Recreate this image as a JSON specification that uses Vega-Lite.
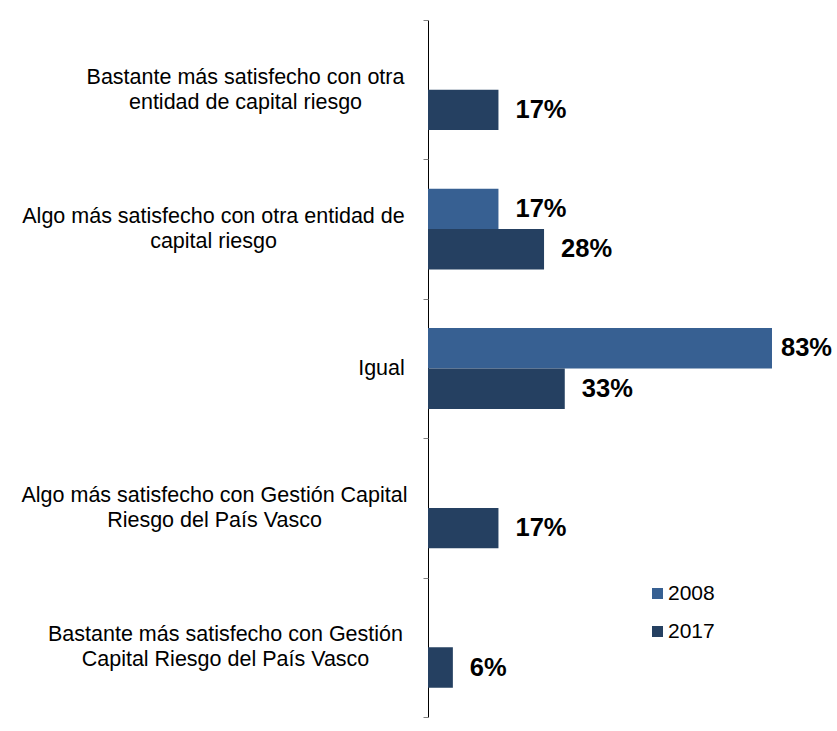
{
  "$schema": "https://vega.github.io/schema/vega-lite/v6.json",
  "width": 373,
  "height": 697,
  "autosize": {"type": "none"},
  "padding": {"left": 428, "top": 20, "right": 36, "bottom": 14},
  "background": "white",
  "config": {"view": {"stroke": null}, "font": "Liberation Sans"},
  "data": {"values": [
    {"categoria": "Bastante más satisfecho con otra entidad de capital riesgo", "anio": "2017", "valor": 0.17},
    {"categoria": "Algo más satisfecho con otra entidad de capital riesgo", "anio": "2008", "valor": 0.17},
    {"categoria": "Algo más satisfecho con otra entidad de capital riesgo", "anio": "2017", "valor": 0.28},
    {"categoria": "Igual", "anio": "2008", "valor": 0.83},
    {"categoria": "Igual", "anio": "2017", "valor": 0.33},
    {"categoria": "Algo más satisfecho con Gestión Capital Riesgo del País Vasco", "anio": "2017", "valor": 0.17},
    {"categoria": "Bastante más satisfecho con Gestión Capital Riesgo del País Vasco", "anio": "2017", "valor": 0.06}
  ]},
  "encoding": {
    "y": {
      "field": "categoria",
      "type": "nominal",
      "sort": [
        "Bastante más satisfecho con otra entidad de capital riesgo",
        "Algo más satisfecho con otra entidad de capital riesgo",
        "Igual",
        "Algo más satisfecho con Gestión Capital Riesgo del País Vasco",
        "Bastante más satisfecho con Gestión Capital Riesgo del País Vasco"
      ],
      "scale": {"paddingInner": 0, "paddingOuter": 0}
    },
    "yOffset": {"field": "anio", "type": "nominal", "scale": {"domain": ["2008", "2017"], "paddingInner": 0, "paddingOuter": 0.725}},
    "x": {"field": "valor", "type": "quantitative", "scale": {"domain": [0, 0.9]}, "axis": null}
  },
  "layer": [
    {
      "mark": {"type": "bar"},
      "encoding": {
        "y": {
          "field": "categoria",
          "type": "nominal",
          "sort": [
            "Bastante más satisfecho con otra entidad de capital riesgo",
            "Algo más satisfecho con otra entidad de capital riesgo",
            "Igual",
            "Algo más satisfecho con Gestión Capital Riesgo del País Vasco",
            "Bastante más satisfecho con Gestión Capital Riesgo del País Vasco"
          ],
          "scale": {"paddingInner": 0, "paddingOuter": 0},
          "axis": {
            "orient": "left",
            "title": null,
            "grid": false,
            "ticks": false,
            "tickSize": 0,
            "domainColor": "#000000",
            "domainWidth": 1,
            "labelFontSize": 21.5,
            "labelColor": "#000000",
            "labelLimit": 0,
            "labelAlign": "center",
            "labelBaseline": "middle",
            "labelLineHeight": 25,
            "labelOffset": {
              "condition": {"test": "datum.value == 'Igual'", "value": 0},
              "value": -12
            },
            "labelPadding": {
              "condition": [
                {"test": "datum.value == 'Igual'", "value": 47},
                {"test": "datum.value == 'Bastante más satisfecho con otra entidad de capital riesgo'", "value": 183},
                {"test": "datum.value == 'Algo más satisfecho con otra entidad de capital riesgo'", "value": 215},
                {"test": "datum.value == 'Algo más satisfecho con Gestión Capital Riesgo del País Vasco'", "value": 214}
              ],
              "value": 203
            },
            "labelExpr": "datum.value == 'Igual' ? 'Igual' : datum.value == 'Bastante más satisfecho con otra entidad de capital riesgo' ? ['Bastante más satisfecho con otra', 'entidad de capital riesgo'] : datum.value == 'Algo más satisfecho con otra entidad de capital riesgo' ? ['Algo más satisfecho con otra entidad de', 'capital riesgo'] : datum.value == 'Algo más satisfecho con Gestión Capital Riesgo del País Vasco' ? ['Algo más satisfecho con Gestión Capital', 'Riesgo del País Vasco'] : ['Bastante más satisfecho con Gestión', 'Capital Riesgo del País Vasco']"
          }
        },
        "color": {
          "field": "anio",
          "type": "nominal",
          "scale": {"domain": ["2008", "2017"], "range": ["#376092", "#254061"]},
          "legend": {
            "orient": "none",
            "legendX": 219,
            "legendY": 563,
            "title": null,
            "symbolType": "square",
            "symbolSize": 121,
            "symbolStrokeWidth": 0,
            "labelFontSize": 21,
            "labelColor": "#000000",
            "rowPadding": 16,
            "labelOffset": 0
          }
        }
      }
    },
    {
      "mark": {"type": "text", "align": "left", "baseline": "middle", "dx": {"expr": "datum.valor > 0.8 ? 9 : 17"}, "fontSize": 25.5, "fontWeight": "bold", "color": "#000000"},
      "encoding": {
        "y": {
          "field": "categoria",
          "type": "nominal",
          "sort": [
            "Bastante más satisfecho con otra entidad de capital riesgo",
            "Algo más satisfecho con otra entidad de capital riesgo",
            "Igual",
            "Algo más satisfecho con Gestión Capital Riesgo del País Vasco",
            "Bastante más satisfecho con Gestión Capital Riesgo del País Vasco"
          ],
          "scale": {"paddingInner": 0, "paddingOuter": 0},
          "axis": {
            "orient": "left",
            "title": null,
            "grid": false,
            "domain": false,
            "labels": false,
            "ticks": true,
            "tickBand": "extent",
            "tickSize": 5,
            "tickColor": "#808080",
            "offset": 0
          }
        },
        "text": {"field": "valor", "type": "quantitative", "format": ".0%"}
      }
    }
  ],
  "resolve": {"axis": {"y": "independent"}}
}
